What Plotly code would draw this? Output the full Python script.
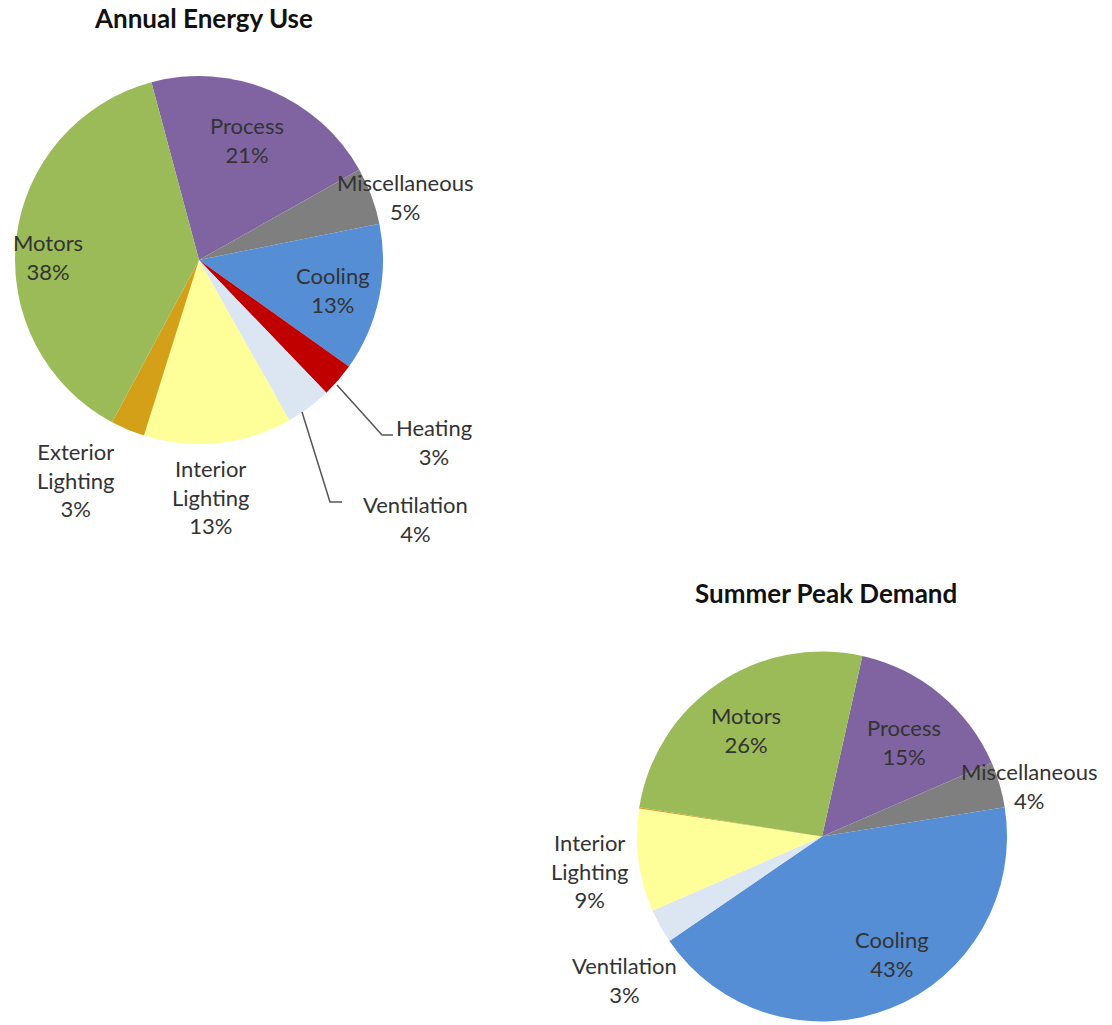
import plotly.graph_objects as go

# ---- data ----
categories = ["Process", "Miscellaneous", "Cooling", "Heating", "Ventilation",
              "Interior Lighting", "Exterior Lighting", "Motors"]
annual_energy_pct = [21, 5, 13, 3, 4, 13, 3, 38]
summer_peak_pct = [15, 4, 43, 0, 3, 9, 0.1, 26]

titles = ["Annual Energy Use", "Summer Peak Demand"]

# ---- styles ----
colors = ["#8064A2", "#7F7F7F", "#558ED5", "#C00000", "#DCE6F2",
          "#FFFF99", "#D4A017", "#9BBB59"]
FONT = "Lato, 'Open Sans', sans-serif"
TXT = "#333333"
W, H = 1112, 1025

def px(x, y):
    return x / W, 1 - y / H

fig = go.Figure()
fig.add_trace(go.Pie(
    labels=categories, values=annual_energy_pct, sort=False, direction="clockwise",
    rotation=-15, marker=dict(colors=colors, line=dict(width=0)),
    textinfo="none", hoverinfo="label+percent", showlegend=False,
    domain=dict(x=[15 / W, 383 / W], y=[1 - 444 / H, 1 - 76 / H]),
))
fig.add_trace(go.Pie(
    labels=categories, values=summer_peak_pct, sort=False, direction="clockwise",
    rotation=12.6, marker=dict(colors=colors, line=dict(width=0)),
    textinfo="none", hoverinfo="label+percent", showlegend=False,
    domain=dict(x=[637 / W, 1007 / W], y=[1 - 1022 / H, 1 - 651 / H]),
))

# label placement (pixel centres) per pie
label_pos = [
    {"Process": (247, 140), "Miscellaneous": (405, 197), "Cooling": (333, 290),
     "Heating": (434, 442), "Ventilation": (415, 519), "Interior Lighting": (210, 497),
     "Exterior Lighting": (75, 480), "Motors": (48, 257)},
    {"Process": (904, 742), "Miscellaneous": (1029, 786), "Cooling": (892, 954),
     "Ventilation": (624, 980), "Interior Lighting": (589, 871), "Motors": (746, 730)},
]
series = [annual_energy_pct, summer_peak_pct]

annotations = []
for pos, vals in zip(label_pos, series):
    for cat, v in zip(categories, vals):
        if cat not in pos:
            continue
        x, y = px(*pos[cat])
        name = cat.replace(" ", "<br>") if "Lighting" in cat else cat
        annotations.append(dict(
            x=x, y=y, xref="paper", yref="paper", xanchor="center", yanchor="middle",
            text=f"{name}<br>{v:g}%", showarrow=False, align="center",
            font=dict(family=FONT, size=22, color=TXT)))

title_pos = [(203, 18), (826, 593)]
for t, (tx, ty) in zip(titles, title_pos):
    x, y = px(tx, ty)
    annotations.append(dict(
        x=x, y=y, xref="paper", yref="paper", xanchor="center", yanchor="middle",
        text=f"<b>{t}</b>", showarrow=False,
        font=dict(family=FONT, size=26, color="#111111")))

# leader lines for outside labels
leaders = [
    [(337, 385), (382, 435), (393, 435)],
    [(302, 412), (330, 502), (342, 502)],
]
shapes = []
for pts in leaders:
    path = "M " + " L ".join(f"{px(a, b)[0]},{px(a, b)[1]}" for a, b in pts)
    shapes.append(dict(type="path", xref="paper", yref="paper", path=path,
                       line=dict(color="#555555", width=1.5)))

fig.update_layout(
    width=W, height=H, margin=dict(l=0, r=0, t=0, b=0),
    paper_bgcolor="white", plot_bgcolor="white",
    annotations=annotations, shapes=shapes,
    font=dict(family=FONT),
)
fig.write_html("out.html", config={"displayModeBar": False},
               post_script="document.body.style.margin='0';document.body.style.overflow='hidden';")
